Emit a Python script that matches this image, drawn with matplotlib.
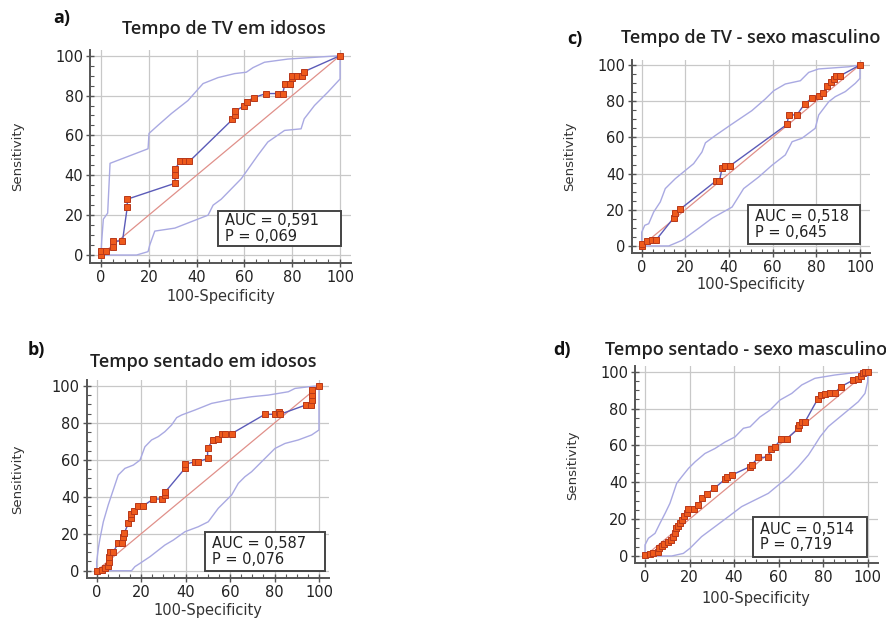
import matplotlib.pyplot as plt
from matplotlib.ticker import MultipleLocator
from matplotlib.patches import Rectangle

# ---- data (100-Specificity, Sensitivity) ----
# a) Tempo de TV em idosos
a_roc_x = [0, 0, 2, 5, 5, 9, 11, 11, 31, 31, 31, 33, 35, 37, 55, 56, 56, 60, 61, 64,
           69, 74, 76, 77, 79, 80, 80, 82, 84, 85, 100]
a_roc_y = [0, 2, 2, 4, 7, 7, 24, 28, 36, 40, 43, 47, 47, 47, 68, 70, 72, 75, 77, 79,
           81, 81, 81, 86, 86, 89, 90, 90, 90, 92, 100]
a_up_x = [0, 0.3, 1, 2.8, 3.8, 19.7, 20.1, 23.8, 29.5, 36.4, 42.7, 49, 55.9, 60.8,
          63.6, 68.4, 78.2, 100]
a_up_y = [0, 7, 18, 21, 46, 53.3, 61, 65, 71, 77.5, 86, 89, 91, 91.7, 94, 96.7,
          98.3, 100]
a_lo_x = [0, 14.9, 19.7, 20.4, 22.5, 30.9, 44.8, 46.9, 50.3, 58.7, 65.6, 69.8, 76.8,
          83.7, 85, 89.3, 94.9, 100, 100]
a_lo_y = [0, 0, 1.7, 5, 12, 13.5, 20, 25, 28, 38.3, 50, 56.7, 62.5, 63.3, 68.3, 75,
          81.7, 88.3, 100]

# b) Tempo sentado em idosos
b_roc_x = [0, 2.2, 3.7, 4.9, 5.5, 5.5, 6, 7.5, 9.7, 11.2, 12, 12.4, 14.2, 15.4, 15.4,
           16.9, 18.7, 21, 25.5, 29.2, 30.7, 30.7, 39.7, 39.7, 44.2, 45.7, 49.9, 49.9,
           52.2, 54.4, 56.5, 57.7, 60.7, 75.7, 80.2, 82, 82.5, 94, 96.4, 96.7, 96.7,
           96.7, 100]
b_roc_y = [0, 0.4, 1.6, 2.7, 4.5, 7.6, 10.3, 10.3, 14.8, 14.8, 18.4, 20.2, 25.6, 28.7,
           30.5, 32.3, 35.2, 35.2, 38.8, 38.8, 41, 42.4, 55.4, 57.6, 59, 59, 60.8, 66.2,
           70.8, 71.1, 73.8, 74.2, 74.2, 84.7, 84.7, 86.1, 84.7, 89.7, 89.7, 92.4,
           95.1, 97.8, 100]
b_up_x = [0, 0, 0.75, 1.5, 3, 5.2, 8.2, 9.7, 12.7, 16.5, 19.5, 21.7, 24.7, 27.7, 30.7,
          33.7, 36, 38.2, 44.2, 51.7, 59.2, 69.7, 77.2, 86.2, 89.2, 98.2, 100]
b_up_y = [0, 4.9, 12.1, 17.5, 26.5, 35.6, 46.4, 51.8, 55.4, 57.2, 59.9, 67.1, 70.8,
          72.6, 75.3, 78.9, 82.9, 84.3, 87, 90.6, 92.4, 94.2, 95.1, 96.9, 98.7, 100,
          100]
b_lo_x = [0, 15.7, 17.2, 19.5, 24, 30.7, 34.5, 39.7, 45.7, 50.2, 54.7, 60.7, 63.7,
          66.7, 69.7, 74.2, 80.2, 84.7, 90.7, 96.7, 100, 100]
b_lo_y = [0, 0, 2.2, 4, 7.6, 13.9, 16.6, 21.1, 23.8, 26.5, 33.8, 41, 47.3, 50.9, 53.6,
          59, 66.2, 68.9, 70.8, 73.5, 76.2, 100]

# c) Tempo de TV - sexo masculino
c_roc_x = [0, 0, 2.3, 4.7, 6.6, 14.7, 15.4, 17.7, 34, 35.6, 36.8, 38.3, 40.6, 66.6,
           67.3, 71.1, 74.7, 78, 81.4, 82.9, 84.9, 86.9, 87.9, 89, 91, 100]
c_roc_y = [0, 1.3, 2.6, 3.3, 3.3, 15.6, 18, 20.4, 35.9, 35.9, 42.9, 44.4, 44.4, 67.2,
           72.4, 72.4, 78.6, 81.6, 83, 84.3, 88.4, 90.4, 92.3, 94.1, 94.1, 100]
c_up_x = [0, 0, 1.4, 3.2, 5.5, 8.5, 10.8, 15.4, 23.8, 27.6, 29.2, 33.7, 41.4, 50.5,
          56.6, 60.5, 65.8, 72.7, 76.5, 81, 94.8, 100]
c_up_y = [0, 7.6, 11.4, 12.3, 18.8, 24.3, 31.7, 37.2, 45.5, 51.9, 57, 61, 67.4, 74.8,
          81.2, 85.8, 89.5, 91.3, 95.9, 97.8, 99, 100]
c_lo_x = [0, 12.4, 18.5, 26.1, 32.2, 41.4, 46.7, 53.6, 59.7, 65.8, 68.9, 73.4, 79.5,
          81.1, 85.7, 88.7, 93.3, 97.9, 100, 100]
c_lo_y = [0, 0, 3.1, 9.8, 15.3, 21.5, 31.7, 38.1, 44.6, 50.3, 57.6, 59.5, 65, 72.4,
          79.7, 82.5, 85.3, 89.9, 92.6, 100]

# d) Tempo sentado - sexo masculino
d_roc_x = [0, 2.2, 3.7, 5.7, 6.3, 7.5, 8.7, 10.5, 11.7, 12.7, 13.5, 13.8, 15, 15.7,
           16.8, 17.7, 18.7, 19.5, 22.2, 24, 25.4, 27.7, 31.1, 35.9, 36.7, 38.9, 47.2,
           47.9, 50.9, 55.4, 56.6, 58.4, 61.1, 63.6, 68.9, 69.2, 70.4, 71.9, 77.5, 79,
           80.8, 83.1, 85.3, 88, 93.6, 95.8, 97, 98.1, 98.8, 100]
d_roc_y = [0.5, 1.1, 1.8, 2.2, 4.2, 5.4, 6.5, 7.8, 8.7, 10.5, 12.7, 15, 16.3, 18.1,
           19.5, 21.7, 23.1, 25.3, 25.3, 27.7, 31.3, 33.6, 36.7, 41.6, 43, 43.9, 48.5,
           49.4, 53.5, 53.5, 57.9, 59.3, 63.5, 63.5, 69.3, 71.1, 72.9, 72.9, 85, 87.3,
           87.9, 88.6, 88.6, 91.9, 95.5, 95.8, 97.6, 99.1, 100, 100]
d_up_x = [0, 0, 1.5, 4.5, 6.7, 9, 11.2, 14.2, 16.5, 19.5, 22.5, 26.9, 31.4, 35.9, 40.4,
          44.2, 47.2, 51.6, 56.1, 60.6, 65.9, 70.4, 76.3, 85.3, 94.3, 100]
d_up_y = [0, 6, 9.6, 12.3, 17.7, 23.1, 28.6, 39.4, 43, 47.5, 51.1, 55.6, 58.3, 61.8,
          64.6, 69.3, 70.1, 75.4, 79.1, 84.6, 88.2, 92.8, 96.4, 98.2, 99.5, 100]
d_lo_x = [0, 12, 17.2, 20.2, 25.4, 31.4, 37.4, 43.4, 49.4, 55.4, 59.9, 64.4, 68.9,
          73.4, 76.3, 78.6, 82.3, 86.8, 91.3, 95.8, 98.8, 100, 100]
d_lo_y = [0, 0, 1.4, 4.2, 10.5, 15.9, 21.3, 26.8, 30.4, 34, 38.5, 43, 48.5, 54.8, 60.2,
          64.6, 70.2, 74.7, 79.2, 83.7, 88.2, 94.6, 100]

titles = ["Tempo de TV em idosos", "Tempo sentado em idosos",
          "Tempo de TV - sexo masculino", "Tempo sentado - sexo masculino"]
letters = ["a)", "b)", "c)", "d)"]
auc_text = ["AUC = 0,591\nP = 0,069", "AUC = 0,587\nP = 0,076",
            "AUC = 0,518\nP = 0,645", "AUC = 0,514\nP = 0,719"]

panels = [
    (a_roc_x, a_roc_y, a_up_x, a_up_y, a_lo_x, a_lo_y),
    (b_roc_x, b_roc_y, b_up_x, b_up_y, b_lo_x, b_lo_y),
    (c_roc_x, c_roc_y, c_up_x, c_up_y, c_lo_x, c_lo_y),
    (d_roc_x, d_roc_y, d_up_x, d_up_y, d_lo_x, d_lo_y),
]

# ---- layout (figure fractions / pixel positions) ----
W, H = 887, 621
axes_rects = [
    [0.1017, 0.5765, 0.2938, 0.3435],
    [0.0977, 0.0691, 0.2732, 0.3182],
    [0.7124, 0.5923, 0.2682, 0.3118],
    [0.7159, 0.0928, 0.2736, 0.3176],
]
title_pos = [(224, 29), (203, 362), (751, 38), (746, 350)]
letter_pos = [(53, 18), (28, 350), (567, 39), (553, 350)]
box_ext = [(49, 4.5, 100.4, 22.2), (48.7, 0, 102.7, 21.1),
           (48.8, 1.1, 99.9, 22.6), (48.6, -0.4, 99.5, 21)]
ylabel_x = [18, 18, 570, 573]
xlabel_y = [296, 610, 284, 598]

ROC = "#5b5bb8"
BAND = "#a9a9e2"
DIAG = "#e0908a"
MFACE = "#ee5a1c"
MEDGE = "#b8381a"
GRID = "#c8c8c8"
SPINE = "#555555"

plt.rcParams['font.family'] = ['DejaVu Sans']

fig = plt.figure(figsize=(W / 100, H / 100), dpi=100)

for i, (rx, ry, ux, uy, lx, ly) in enumerate(panels):
    ax = fig.add_axes(axes_rects[i])
    ax.set_xlim(-4.5, 104.5)
    ax.set_ylim(-4, 103)
    ax.xaxis.set_major_locator(MultipleLocator(20))
    ax.yaxis.set_major_locator(MultipleLocator(20))
    ax.xaxis.set_minor_locator(MultipleLocator(5))
    ax.yaxis.set_minor_locator(MultipleLocator(5))
    ax.grid(True, which='major', color=GRID, lw=0.9)
    ax.set_axisbelow(True)
    for s in ['top', 'right']:
        ax.spines[s].set_visible(False)
    for s in ['left', 'bottom']:
        ax.spines[s].set_color(SPINE)
        ax.spines[s].set_linewidth(1.4)
    ax.tick_params(which='major', direction='inout', length=6, width=1,
                   color=SPINE, labelsize=10.5, labelcolor='#222222', pad=2)
    ax.tick_params(which='minor', direction='in', length=3, width=0.8, color=SPINE)

    ax.plot([0, 100], [0, 100], color=DIAG, lw=0.9, zorder=2)
    ax.plot(ux, uy, color=BAND, lw=1.0, zorder=2)
    ax.plot(lx, ly, color=BAND, lw=1.0, zorder=2)
    ax.plot(rx, ry, color=ROC, lw=1.0, marker='s', markersize=5,
            markerfacecolor=MFACE, markeredgecolor=MEDGE, markeredgewidth=0.7, zorder=3)

    x0, y0, x1, y1 = box_ext[i]
    ax.add_patch(Rectangle((x0, y0), x1 - x0, y1 - y0, facecolor='white',
                           edgecolor='#444444', lw=1.4, zorder=4, clip_on=False))
    ax.text(x0 + 3, (y0 + y1) / 2, auc_text[i], fontsize=10.5, color='#222222',
            va='center', ha='left', linespacing=1.05, zorder=5)

    # axis labels placed in figure pixels
    left, bottom, width, height = axes_rects[i]
    fig.text(ylabel_x[i] / W, bottom + height / 2, "Sensitivity", rotation=90,
             ha='center', va='center', fontsize=9.5, color='#333333')
    fig.text((left + width / 2), 1 - xlabel_y[i] / H, "100-Specificity",
             ha='center', va='center', fontsize=10.5, color='#333333')

    tx, ty = title_pos[i]
    fig.text(tx / W, 1 - ty / H, titles[i], ha='center', va='center',
             fontsize=13, fontweight='semibold', family=['Open Sans', 'DejaVu Sans'],
             color='#222222')
    lx_, ly_ = letter_pos[i]
    fig.text(lx_ / W, 1 - ly_ / H, letters[i], ha='left', va='center',
             fontsize=13, fontweight='bold', family=['Open Sans', 'DejaVu Sans'],
             color='#111111')

fig.savefig("out.png", dpi=100)
